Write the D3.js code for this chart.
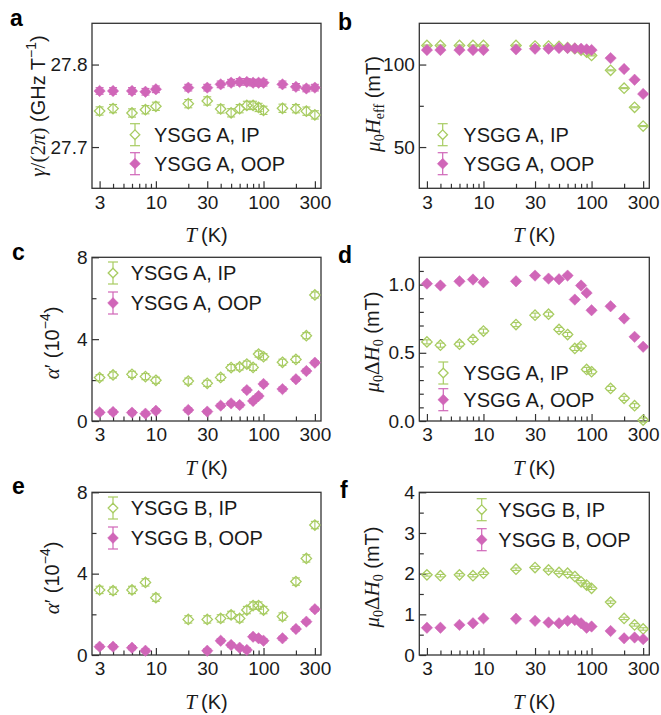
<!DOCTYPE html>
<html>
<head>
<meta charset="utf-8">
<script src="https://cdn.jsdelivr.net/npm/d3@7"></script>
<style>
  body { margin: 0; background: #fff; }
  svg { display: block; }
</style>
</head>
<body>
<script>
// Measurement temperatures (K)
const temps = [3, 4, 6, 8, 10, 20, 30, 40, 50, 60, 70, 80, 90, 100, 150, 200, 250, 300];

// (a) gyromagnetic ratio, GHz/T
const gammaIP  = [27.7437, 27.7466, 27.7413, 27.7453, 27.7494, 27.7526, 27.7559, 27.7462, 27.7415, 27.7465, 27.7505, 27.7505, 27.748, 27.7445, 27.747, 27.7465, 27.7435, 27.739];
const gammaOOP = [27.768, 27.768, 27.768, 27.767, 27.770, 27.772, 27.772, 27.776, 27.778, 27.779, 27.779, 27.778, 27.778, 27.778, 27.776, 27.773, 27.771, 27.772];

// (b) effective field, mT
const heffIP  = [111.6, 111.6, 111.6, 111.6, 111.6, 111.6, 111.2, 111.2, 111.0, 110.2, 109.6, 108.8, 107.6, 105.5, 96.5, 85.7, 74.1, 62.7];
const heffOOP = [108.8, 108.8, 108.8, 108.8, 108.8, 109.2, 109.6, 109.6, 110.0, 110.0, 109.8, 109.6, 109.2, 108.8, 103.9, 97.3, 90.8, 82.2];

// (c) damping, sample A, 1e-4
const alphaAIP  = [2.12, 2.25, 2.28, 2.17, 1.99, 1.95, 1.84, 2.13, 2.61, 2.64, 2.78, 2.62, 3.27, 3.14, 2.87, 3.01, 4.17, 6.16];
const alphaAOOP = [0.42, 0.44, 0.41, 0.36, 0.50, 0.54, 0.46, 0.75, 0.86, 0.78, 1.51, 0.98, 1.22, 1.81, 1.56, 2.04, 2.44, 2.85];

// (d) inhomogeneous linewidth, sample A, mT
const dhAIP  = [0.58, 0.556, 0.563, 0.598, 0.659, 0.707, 0.776, 0.783, 0.671, 0.634, 0.532, 0.549, 0.378, 0.361, 0.239, 0.166, 0.112, 0.007];
const dhAOOP = [1.007, 0.993, 1.024, 1.037, 1.017, 1.024, 1.066, 1.044, 1.039, 1.066, 0.89, 0.993, 0.939, 0.812, 0.841, 0.751, 0.617, 0.544];

// (e) damping, sample B, 1e-4 (no OOP fit at 10 K and 20 K)
const alphaBIP  = [3.20, 3.16, 3.20, 3.57, 2.82, 1.75, 1.75, 1.80, 1.97, 1.80, 2.21, 2.43, 2.43, 2.21, 1.89, 3.61, 4.75, 6.39];
const alphaBOOP = [0.41, 0.41, 0.36, 0.21, null, null, 0.21, 0.70, 0.49, 0.36, 0.25, 0.90, 0.82, 0.70, 0.82, 1.28, 1.64, 2.25];

// (f) inhomogeneous linewidth, sample B, mT
const dhBIP  = [1.97, 1.95, 1.97, 1.95, 2.01, 2.11, 2.15, 2.09, 2.03, 2.01, 1.93, 1.80, 1.72, 1.64, 1.30, 0.90, 0.74, 0.64];
const dhBOOP = [0.67, 0.67, 0.74, 0.78, 0.90, 0.89, 0.84, 0.80, 0.78, 0.84, 0.86, 0.78, 0.67, 0.70, 0.59, 0.41, 0.43, 0.39];

// Error-bar half widths (IP, OOP) per panel
const errA_gamma = [0.005, 0.004];
const errA_heff  = [0.3, 0.3];
const errA_alpha = [0.15, 0.1];
const errA_dh    = [0.015, 0.01];
const errB_alpha = [0.18, 0.1];
const errB_dh    = [0.03, 0.02];

// Axis ticks
const xMajor = [3, 10, 30, 100, 300];
const xMinor = [4, 5, 6, 7, 8, 9, 20, 40, 50, 60, 70, 80, 90, 200];

const W = 661, H = 715;
const GREEN = "#a8cc62", PINK = "#d066b8", AXIS = "#333";
const SANS = "'Liberation Sans', Arial, Helvetica, sans-serif";
const SERIF = "'Liberation Serif', 'Times New Roman', serif";
const FS = 19;

const svg = d3.select("body").append("svg")
  .attr("width", W).attr("height", H)
  .attr("viewBox", `0 0 ${W} ${H}`);

const cols = [{ x0: 92, x1: 321 }, { x0: 419.3, x1: 649.3 }];
const rows = [{ y0: 23.3, y1: 188.3 }, { y0: 257.3, y1: 421 }, { y0: 492.3, y1: 655 }];

const diamond = r => `M0,${-r}L${r},0L0,${r}L${-r},0Z`;

// Build a rotated or horizontal label from styled runs
function richText(g, parts, attrs) {
  const t = g.append("text").attr("fill", "#1a1a1a");
  Object.entries(attrs).forEach(([k, v]) => t.attr(k, v));
  let shift = 0;
  parts.forEach(p => {
    const s = t.append("tspan").text(p.t)
      .attr("font-family", p.serif ? SERIF : SANS)
      .attr("font-style", p.it ? "italic" : "normal")
      .attr("font-size", p.size || FS);
    const target = p.shift || 0;
    if (target !== shift) { s.attr("dy", target - shift); shift = target; }
  });
  return t;
}

function panel(cfg) {
  const c = cols[cfg.col], r = rows[cfg.row];
  const g = svg.append("g");
  const x = d3.scaleLog().domain([2.55, 342]).range([c.x0, c.x1]);
  const y = d3.scaleLinear().domain(cfg.yDomain).range([r.y1, r.y0]);

  // minor ticks
  g.append("g").attr("transform", `translate(0,${r.y1})`)
    .call(d3.axisBottom(x).tickValues(xMinor).tickSize(-4.5).tickFormat(""))
    .call(a => a.select(".domain").remove());
  g.append("g").attr("transform", `translate(${c.x0},0)`)
    .call(d3.axisLeft(y).tickValues(cfg.yMinor).tickSize(-4.5).tickFormat(""))
    .call(a => a.select(".domain").remove());

  // major ticks with labels
  const xa = g.append("g").attr("transform", `translate(0,${r.y1})`)
    .call(d3.axisBottom(x).tickValues(xMajor).tickSize(-7).tickPadding(7).tickFormat(d3.format("d")));
  xa.select(".domain").remove();
  const ya = g.append("g").attr("transform", `translate(${c.x0},0)`)
    .call(d3.axisLeft(y).tickValues(cfg.yMajor).tickSize(-7).tickPadding(4.5).tickFormat(cfg.fmt));
  ya.select(".domain").remove();
  g.selectAll(".tick line").attr("stroke", AXIS).attr("stroke-width", 1.2);
  g.selectAll(".tick text").attr("font-family", SANS).attr("font-size", FS).attr("fill", "#1a1a1a");

  // frame
  g.append("rect").attr("x", c.x0).attr("y", r.y0)
    .attr("width", c.x1 - c.x0).attr("height", r.y1 - r.y0)
    .attr("fill", "none").attr("stroke", AXIS).attr("stroke-width", 1.3);

  // series: IP (open) first, OOP (filled) on top
  const series = [
    { vals: cfg.ip, err: cfg.err[0], color: GREEN, open: true },
    { vals: cfg.oop, err: cfg.err[1], color: PINK, open: false }
  ];
  const plot = g.append("g");
  series.forEach(s => {
    const pts = temps.map((t, i) => ({ t, v: s.vals[i] })).filter(d => d.v != null);
    const grp = plot.append("g");
    const eb = grp.selectAll("g.eb").data(pts).join("g")
      .attr("transform", d => `translate(${x(d.t)},0)`);
    eb.append("line")
      .attr("y1", d => y(d.v - s.err)).attr("y2", d => y(d.v + s.err))
      .attr("stroke", s.color).attr("stroke-width", 1.1);
    [-1, 1].forEach(k => eb.append("line")
      .attr("x1", -4).attr("x2", 4)
      .attr("y1", d => y(d.v + k * s.err)).attr("y2", d => y(d.v + k * s.err))
      .attr("stroke", s.color).attr("stroke-width", 1.1));
    grp.selectAll("path.m").data(pts).join("path")
      .attr("transform", d => `translate(${x(d.t)},${y(d.v)})`)
      .attr("d", s.open ? diamond(5.2) : diamond(5.7))
      .attr("fill", s.open ? "none" : s.color)
      .attr("stroke", s.color).attr("stroke-width", s.open ? 1.3 : 0.5);
  });

  // legend
  const L = cfg.legend;
  series.forEach((s, i) => {
    const ly = L.base[i] - 7;
    const lg = g.append("g").attr("transform", `translate(${L.mx},${ly})`);
    lg.append("line").attr("y1", -11).attr("y2", 11).attr("stroke", s.color).attr("stroke-width", 1.2);
    [-11, 11].forEach(v => lg.append("line").attr("x1", -5).attr("x2", 5).attr("y1", v).attr("y2", v)
      .attr("stroke", s.color).attr("stroke-width", 1.2));
    lg.append("path").attr("d", s.open ? diamond(4.8) : diamond(5.4))
      .attr("fill", s.open ? "#fff" : s.color).attr("stroke", s.color).attr("stroke-width", s.open ? 1.3 : 0.5);
    g.append("text").attr("x", L.tx).attr("y", L.base[i])
      .attr("font-family", SANS).attr("font-size", 20).attr("fill", "#1a1a1a")
      .text(L.labels[i]);
  });

  // x label
  richText(g, [
    { t: "T", serif: true, it: true, size: 21 },
    { t: "\u2009(K)", size: FS + 1 }
  ], { x: (c.x0 + c.x1) / 2, y: r.y1 + 54, "text-anchor": "middle" });

  // y label
  richText(g, cfg.ylabel, {
    transform: `translate(${cfg.yl[0]},${cfg.yl[1]}) rotate(-90)`,
    "text-anchor": "middle"
  });

  // panel letter
  g.append("text").attr("x", cfg.letter[1]).attr("y", cfg.letter[2])
    .attr("font-family", SANS).attr("font-weight", "bold").attr("font-size", 23)
    .attr("fill", "#000").text(cfg.letter[0]);
}

const labMuH0 = [
  { t: "\u03bc", serif: true, it: true, size: 21 },
  { t: "0", serif: true, size: 14, shift: 4 },
  { t: "\u0394", serif: true, size: 21, shift: 0 },
  { t: "H", serif: true, it: true, size: 21 },
  { t: "0", serif: true, size: 14, shift: 4 },
  { t: " (mT)", size: FS + 1, shift: 0 }
];
const labAlpha = [
  { t: "\u03b1", serif: true, it: true, size: 21 },
  { t: "\u2032", serif: true, size: 21 },
  { t: " (10", size: FS + 1 },
  { t: "\u22124", size: 14, shift: -9 },
  { t: ")", size: FS + 1, shift: 0 }
];

panel({
  col: 0, row: 0, ip: gammaIP, oop: gammaOOP, err: errA_gamma,
  yDomain: [27.65, 27.85], yMajor: [27.7, 27.8], yMinor: [], fmt: d3.format(".1f"),
  legend: { mx: 135, tx: 154, base: [141.7, 170.7], labels: ["YSGG A, IP", "YSGG A, OOP"] },
  ylabel: [
    { t: "\u03b3", serif: true, it: true, size: 21 },
    { t: "/(2", serif: true, size: 21 },
    { t: "\u03c0", serif: true, it: true, size: 21 },
    { t: ")", serif: true, size: 21 },
    { t: " (GHz T", size: FS + 1 },
    { t: "\u22121", size: 14, shift: -9 },
    { t: ")", size: FS + 1, shift: 0 }
  ],
  yl: [45, 106], letter: ["a", 10, 26]
});

panel({
  col: 1, row: 0, ip: heffIP, oop: heffOOP, err: errA_heff,
  yDomain: [25, 125], yMajor: [50, 100], yMinor: [75], fmt: d3.format("d"),
  legend: { mx: 442.7, tx: 463.3, base: [141.7, 170.7], labels: ["YSGG A, IP", "YSGG A, OOP"] },
  ylabel: [
    { t: "\u03bc", serif: true, it: true, size: 21 },
    { t: "0", serif: true, size: 14, shift: 4 },
    { t: "H", serif: true, it: true, size: 21, shift: 0 },
    { t: "eff", serif: true, size: 14, shift: 4 },
    { t: " (mT)", size: FS + 1, shift: 0 }
  ],
  yl: [380, 104], letter: ["b", 338, 30]
});

panel({
  col: 0, row: 1, ip: alphaAIP, oop: alphaAOOP, err: errA_alpha,
  yDomain: [0, 8], yMajor: [0, 4, 8], yMinor: [2, 6], fmt: d3.format("d"),
  legend: { mx: 113, tx: 130.7, base: [280, 310], labels: ["YSGG A, IP", "YSGG A, OOP"] },
  ylabel: labAlpha, yl: [59, 343], letter: ["c", 12, 260]
});

panel({
  col: 1, row: 1, ip: dhAIP, oop: dhAOOP, err: errA_dh,
  yDomain: [0, 1.2], yMajor: [0, 0.5, 1.0], yMinor: [0.1, 0.2, 0.3, 0.4, 0.6, 0.7, 0.8, 0.9, 1.1], fmt: d3.format(".1f"),
  legend: { mx: 443.3, tx: 463.3, base: [380, 406.7], labels: ["YSGG A, IP", "YSGG A, OOP"] },
  ylabel: labMuH0, yl: [379, 342], letter: ["d", 338, 263]
});

panel({
  col: 0, row: 2, ip: alphaBIP, oop: alphaBOOP, err: errB_alpha,
  yDomain: [0, 8], yMajor: [0, 4, 8], yMinor: [2, 6], fmt: d3.format("d"),
  legend: { mx: 113, tx: 130.7, base: [515, 545], labels: ["YSGG B, IP", "YSGG B, OOP"] },
  ylabel: labAlpha, yl: [59, 578], letter: ["e", 12, 494]
});

panel({
  col: 1, row: 2, ip: dhBIP, oop: dhBOOP, err: errB_dh,
  yDomain: [0, 4], yMajor: [0, 1, 2, 3, 4], yMinor: [0.5, 1.5, 2.5, 3.5], fmt: d3.format("d"),
  legend: { mx: 481.7, tx: 498.3, base: [516.7, 546.7], labels: ["YSGG B, IP", "YSGG B, OOP"] },
  ylabel: labMuH0, yl: [379, 577], letter: ["f", 340, 498]
});
</script>
</body>
</html>
